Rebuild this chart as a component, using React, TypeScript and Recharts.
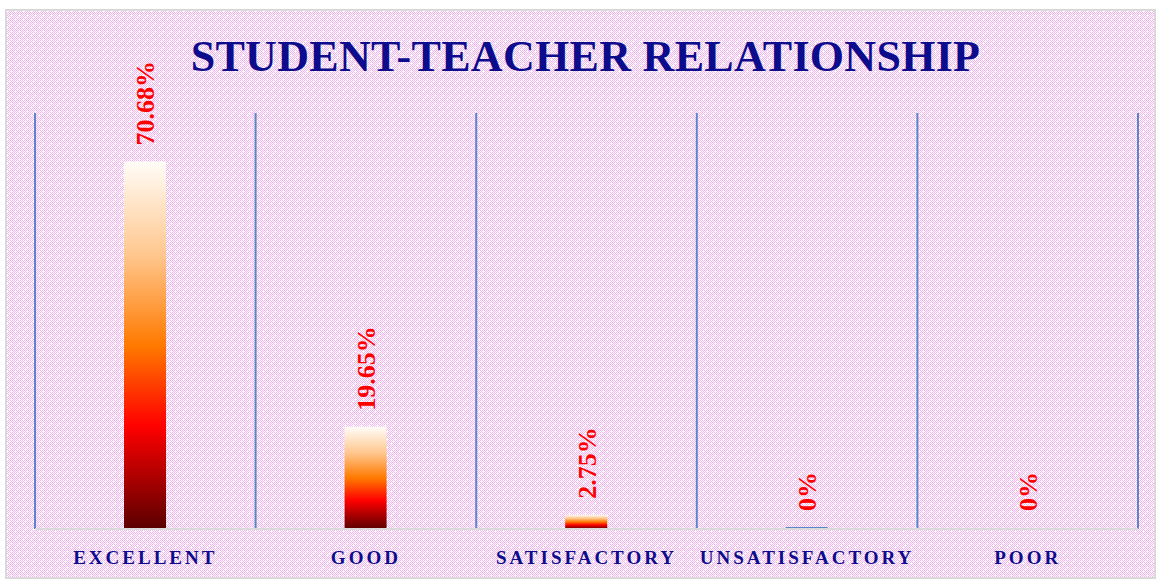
import React from "react";
import { BarChart, Bar, XAxis, YAxis, CartesianGrid, LabelList, Cell } from "recharts";

const categories = ["EXCELLENT", "GOOD", "SATISFACTORY", "UNSATISFACTORY", "POOR"];
const percentages = [70.68, 19.65, 2.75, 0, 0];
const valueLabels = ["70.68%", "19.65%", "2.75%", "0%", "0%"];

const data = categories.map((name, i) => ({ name, value: percentages[i], label: valueLabels[i] }));

const NAVY = "#0c0c8c";
const FONT = "'Liberation Serif', 'DejaVu Serif', serif";
const PINK = "#f4b2f1";

// 8x8 checker tile with a few white specks, like the pattern fill in the original
const tileCells: { x: number; y: number }[] = [];
for (let yy = 0; yy < 8; yy++) {
  for (let xx = 0; xx < 8; xx++) {
    const speck = (xx === 2 && yy === 2) || (xx === 6 && yy === 6) || (xx === 4 && yy === 0);
    if ((xx + yy) % 2 === 0 && !speck) tileCells.push({ x: xx, y: yy });
  }
}

const AxisTick = (props: any) => {
  const { x, y, payload } = props;
  return (
    <text
      x={x}
      y={y + 27}
      textAnchor="middle"
      fill={NAVY}
      fontFamily={FONT}
      fontWeight="bold"
      fontSize={19}
      letterSpacing={3}
    >
      {payload.value}
    </text>
  );
};

const ValueLabel = (props: any) => {
  const { x, y, width, value } = props;
  const cx = x + width / 2 + 1;
  const ty = y - 16;
  return (
    <text
      x={cx}
      y={ty}
      transform={`rotate(-90 ${cx} ${ty})`}
      textAnchor="start"
      dominantBaseline="central"
      fill="#ff0000"
      fontFamily={FONT}
      fontWeight="bold"
      fontSize={26}
    >
      {value}
    </text>
  );
};

export default function App() {
  return (
    <div style={{ position: "absolute", left: 0, top: 0, width: 1159, height: 580, background: "#fff" }}>
      <svg
        width={1151}
        height={570}
        style={{ position: "absolute", left: 5, top: 9 }}
        shapeRendering="crispEdges"
      >
        <defs>
          <pattern id="bgPat" width={8} height={8} patternUnits="userSpaceOnUse">
            <rect width={8} height={8} fill="#ffffff" />
            {tileCells.map((c) => (
              <rect key={`${c.x}-${c.y}`} x={c.x} y={c.y} width={1} height={1} fill={PINK} />
            ))}
          </pattern>
        </defs>
        <rect x={1} y={1} width={1149} height={568} fill="url(#bgPat)" stroke="#d9d9d9" strokeWidth={2} />
      </svg>
      <div
        style={{
          position: "absolute",
          left: 0,
          top: 29,
          width: 1171,
          textAlign: "center",
          color: NAVY,
          fontFamily: FONT,
          fontWeight: "bold",
          fontSize: 44,
          letterSpacing: 0.3,
          lineHeight: "56px",
        }}
      >
        STUDENT-TEACHER RELATIONSHIP
      </div>
      <div style={{ position: "absolute", left: 0, top: 0 }}>
        <BarChart
          width={1159}
          height={580}
          data={data}
          margin={{ top: 113, right: 21, bottom: 21, left: 35 }}
        >
          <defs>
            <linearGradient id="barGrad" x1="0" y1="0" x2="0" y2="1">
              <stop offset="0%" stopColor="#fffdf8" />
              <stop offset="25%" stopColor="#ffc890" />
              <stop offset="50%" stopColor="#ff7a00" />
              <stop offset="72%" stopColor="#ff0000" />
              <stop offset="100%" stopColor="#5a0000" />
            </linearGradient>
          </defs>
          <CartesianGrid
            horizontal={false}
            stroke="#5b87c9"
            strokeWidth={2}
            verticalCoordinatesGenerator={({ offset }: any) =>
              categories
                .concat([""])
                .map((_, i) => offset.left + (i * offset.width) / categories.length)
            }
          />
          <XAxis
            dataKey="name"
            height={30}
            axisLine={{ stroke: "#d9d9d9", strokeWidth: 2 }}
            tickLine={false}
            tick={<AxisTick />}
            interval={0}
          />
          <YAxis hide domain={[0, 80]} />
          <Bar dataKey="value" barSize={42} minPointSize={2} isAnimationActive={false}>
            {data.map((d, i) => (
              <Cell
                key={d.name}
                fill={d.value > 0 ? "url(#barGrad)" : i === 3 ? "#5b87c9" : "transparent"}
              />
            ))}
            <LabelList dataKey="label" content={<ValueLabel />} />
          </Bar>
        </BarChart>
      </div>
    </div>
  );
}
